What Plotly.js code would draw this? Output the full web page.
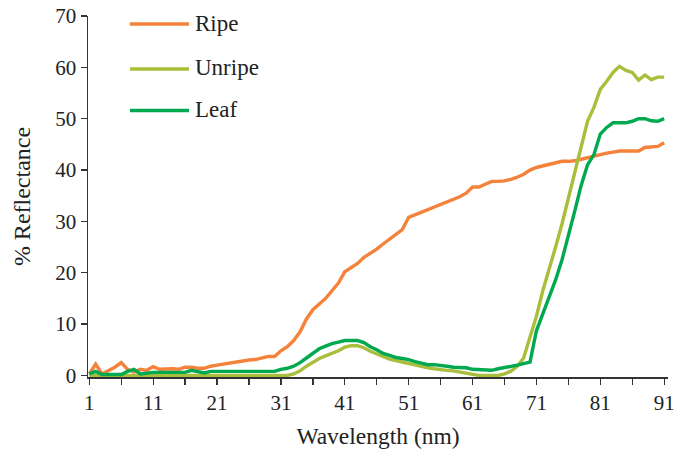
<!DOCTYPE html>
<html>
<head>
<meta charset="utf-8">
<script src="https://cdn.plot.ly/plotly-3.0.1.min.js"></script>
<style>html,body{margin:0;padding:0;background:#fff;}#chart{width:675px;height:454px;}</style>
</head>
<body>
<div id="chart"></div>
<script>
// Wavelength index 1..91
const wavelength = Array.from({length: 91}, (_, i) => i + 1);

const ripe = [
  0.3, 2.2, 0.3, 0.9, 1.6, 2.5, 1.2, 0.7, 1.2, 1.0,
  1.7, 1.2, 1.3, 1.3, 1.2, 1.6, 1.6, 1.4, 1.4, 1.8,
  2.0, 2.2, 2.5, 2.6, 2.8, 3.0, 3.1, 3.4, 3.7, 3.7,
  4.8, 5.6, 6.8, 8.5, 11.0, 12.8, 14.0, 15.0, 16.5, 18.0,
  20.2, 21.0, 21.8, 23.0, 23.8, 24.6, 25.6, 26.5, 27.4, 28.4,
  30.8, 31.3, 31.8, 32.2, 32.7, 33.3, 33.8, 34.2, 34.8, 35.5,
  36.7, 36.7, 37.2, 37.8, 37.8, 37.9, 38.2, 38.6, 39.2, 40.0,
  40.5, 40.8, 41.0, 41.3, 41.7, 41.7, 41.8, 42.1, 42.4, 42.8,
  43.0, 43.3, 43.5, 43.7, 43.7, 43.7, 43.7, 44.4, 44.5, 44.6,
  45.3
];

const unripe = [
  0, 0, 0, 0, 0, 0, 0, 0, 0, 0,
  0, 0, 0, 0, 0, 0, 0, 0, 0, 0,
  0, 0, 0, 0, 0, 0, 0, 0, 0, 0,
  0, 0, 0.3, 0.9, 1.8, 2.6, 3.3, 3.8, 4.3, 4.8,
  5.5, 5.8, 5.8, 5.4, 4.7, 4.2, 3.6, 3.2, 2.9, 2.6,
  2.3, 2.1, 1.8, 1.5, 1.3, 1.1, 1.0, 0.9, 0.7, 0.5,
  0.2, 0, 0, 0, 0, 0.3, 0.8, 1.8, 3.4, 7.5,
  11.5, 16.5, 20.5, 25.0, 29.5, 34.5, 39.5, 45.0, 49.5, 52.2,
  55.7, 57.3, 59.0, 60.2, 59.4, 59.0, 57.5, 58.5, 57.6, 58.1,
  58.1
];

const leaf = [
  0.3, 0.8, 0.2, 0.2, 0.2, 0.2, 0.8, 1.2, 0.3, 0.5,
  0.6, 0.6, 0.6, 0.6, 0.6, 0.6, 1.0, 0.8, 0.5, 0.8,
  0.8, 0.8, 0.8, 0.8, 0.8, 0.8, 0.8, 0.8, 0.8, 0.8,
  1.2, 1.4, 1.8, 2.5, 3.4, 4.4, 5.2, 5.7, 6.2, 6.5,
  6.8, 6.8, 6.8, 6.4, 5.6, 5.0, 4.3, 3.9, 3.5, 3.3,
  3.1, 2.7, 2.4, 2.1, 2.1, 2.0, 1.8, 1.6, 1.6, 1.5,
  1.2, 1.1, 1.0, 1.0, 1.3, 1.5, 1.8, 2.0, 2.3, 2.6,
  8.7, 12.0, 15.3, 18.6, 22.5, 27.0, 32.0, 37.0, 41.0, 43.0,
  47.0, 48.3, 49.2, 49.2, 49.2, 49.5, 50.0, 50.0, 49.6, 49.5,
  50.0
];

const seriesNames = ['Ripe', 'Unripe', 'Leaf'];
const seriesColors = ['#F5823A', '#A9BE3B', '#00A94F'];
const xTickVals = [1, 6, 11, 16, 21, 26, 31, 36, 41, 46, 51, 56, 61, 66, 71, 76, 81, 86, 91];
const xTickText = ['1', '', '11', '', '21', '', '31', '', '41', '', '51', '', '61', '', '71', '', '81', '', '91'];
const yTickVals = [0, 10, 20, 30, 40, 50, 60, 70];

const font = 'Liberation Serif, Times New Roman, serif';
const allY = [ripe, unripe, leaf];

const traces = allY.map((y, k) => ({
  x: wavelength, y: y, type: 'scatter', mode: 'lines', name: seriesNames[k],
  line: {color: seriesColors[k], width: 3.4, shape: 'linear'},
  showlegend: false
}));

// custom legend (paper coordinates) to reproduce long line samples
const L = 88, R = 7, T = 16, B = 77, W = 675, H = 454;
const pw = W - L - R, ph = H - T - B;
const px2x = p => (p - L) / pw;
const py2y = p => (H - B - p) / ph;
const legendRows = [24, 69, 110.5];
const shapes = [], annotations = [];
seriesNames.forEach((n, k) => {
  shapes.push({type: 'line', xref: 'paper', yref: 'paper',
    x0: px2x(130), x1: px2x(189), y0: py2y(legendRows[k]), y1: py2y(legendRows[k]),
    line: {color: seriesColors[k], width: 3.4}});
  annotations.push({xref: 'paper', yref: 'paper', x: px2x(193), y: py2y(legendRows[k] - 1),
    xanchor: 'left', yanchor: 'middle', text: n, showarrow: false,
    font: {family: font, size: 23, color: '#222'}});
});

const layout = {
  width: W, height: H,
  margin: {l: L, r: R, t: T, b: B},
  paper_bgcolor: '#fff', plot_bgcolor: '#fff',
  font: {family: font, size: 21, color: '#222'},
  showlegend: false,
  xaxis: {
    range: [0.8, 91.6], tickmode: 'array', tickvals: xTickVals, ticktext: xTickText,
    ticks: 'outside', ticklen: 6, tickwidth: 1.3, tickcolor: '#333',
    showline: true, linecolor: '#333', linewidth: 1.5, showgrid: false, zeroline: false,
    tickfont: {family: font, size: 21, color: '#222'},
    title: {text: 'Wavelength (nm)', font: {family: font, size: 23.5, color: '#222'}, standoff: 14}
  },
  yaxis: {
    range: [-0.3, 70], tickmode: 'array', tickvals: yTickVals,
    ticks: 'outside', ticklen: 6, tickwidth: 1.3, tickcolor: '#333',
    showline: true, linecolor: '#333', linewidth: 1.5, showgrid: false, zeroline: false,
    tickfont: {family: font, size: 21, color: '#222'},
    title: {text: '% Reflectance', font: {family: font, size: 24, color: '#222'}, standoff: 18}
  },
  shapes: shapes, annotations: annotations
};

Plotly.newPlot('chart', traces, layout, {displayModeBar: false, staticPlot: true});
</script>
</body>
</html>
